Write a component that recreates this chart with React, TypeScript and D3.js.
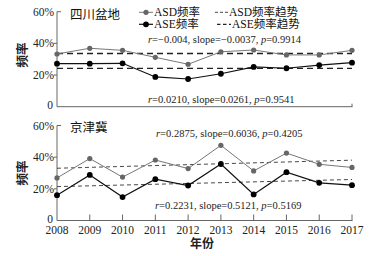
import React from "react";
import * as d3 from "d3";

const years = [2008, 2009, 2010, 2011, 2012, 2013, 2014, 2015, 2016, 2017];
const yTicks = [0, 20, 40, 60];

// 四川盆地
const scAsd = [33.3, 36.9, 35.6, 31.2, 26.8, 34.7, 35.8, 32.7, 32.7, 35.6];
const scAse = [27.2, 27.2, 27.4, 18.8, 17.5, 20.8, 25.1, 24.3, 26.3, 27.8];
const scAsdTrend = [33.6, 33.6];
const scAseTrend = [24.2, 24.2];

// 京津冀
const jjAsd = [26.9, 39.1, 27.4, 38.2, 32.8, 47.5, 31.3, 42.6, 35.5, 33.5];
const jjAse = [16.0, 28.8, 14.8, 26.1, 22.1, 35.7, 16.5, 30.5, 23.8, 22.3];
const jjAsdTrend = [33.0, 38.1];
const jjAseTrend = [21.4, 25.9];

const FONT = "'Liberation Serif', 'Noto Sans CJK SC', serif";

type PanelProps = {
  top: number;
  bottom: number;
  title: string;
  asd: number[];
  ase: number[];
  asdTrend: number[];
  aseTrend: number[];
  heavyTrend: boolean;
  stats: { r: string; slope: string; p: string; x: number; y: number }[];
  showXTicks: boolean;
  titleY: number;
};

const x = d3.scaleLinear().domain([2008, 2017]).range([57, 352]);

function Panel(props: PanelProps) {
  const y = d3.scaleLinear().domain([0, 60]).range([props.bottom, props.top]);
  const line = d3
    .line<number>()
    .x((_, i) => x(years[i]))
    .y((d) => y(d));
  const trendLine = (t: number[]) =>
    d3
      .line<number>()
      .x((_, i) => x(i === 0 ? years[0] : years[years.length - 1]))
      .y((d) => y(d))(t) || "";
  const axisColor = "#666";
  const trendStyle = props.heavyTrend
    ? { stroke: "#222", strokeWidth: 1.4, strokeDasharray: "6,4" }
    : { stroke: "#333", strokeWidth: 0.9, strokeDasharray: "4,3" };
  return (
    <g>
      {/* axes */}
      <line x1={x(2008)} x2={x(2008)} y1={y(60)} y2={y(0)} stroke={axisColor} strokeWidth={1} />
      <line x1={x(2008)} x2={x(2017) + 0.5} y1={y(0)} y2={y(0)} stroke={axisColor} strokeWidth={1} />
      {yTicks.map((t) => (
        <g key={t}>
          {t === 60 ? (
            <line x1={x(2008)} x2={x(2008) + 4} y1={y(t)} y2={y(t)} stroke={axisColor} />
          ) : t > 0 ? (
            <line x1={x(2008) - 3} x2={x(2008)} y1={y(t)} y2={y(t)} stroke={axisColor} />
          ) : null}
          <text
            x={x(2008) - (t === 0 ? 4 : 3)}
            y={y(t) + (t === 0 ? 2.5 : 4)}
            textAnchor="end"
            fontSize={11.5}
            fill="#222"
            fontFamily={FONT}
          >
            {t === 0 ? "0" : `${t}%`}
          </text>
        </g>
      ))}
      {props.showXTicks
        ? years.slice(1).map((yr) => (
            <line key={yr} x1={x(yr)} x2={x(yr)} y1={y(0)} y2={y(0) - 6} stroke={axisColor} />
          ))
        : <line x1={x(2017)} x2={x(2017)} y1={y(0)} y2={y(0) - 3} stroke={axisColor} />}
      {/* trends */}
      <path d={trendLine(props.asdTrend)} fill="none" {...trendStyle} />
      <path d={trendLine(props.aseTrend)} fill="none" {...trendStyle} />
      {/* series */}
      <path d={line(props.asd) || ""} fill="none" stroke="#777" strokeWidth={1} />
      {props.asd.map((v, i) => (
        <circle key={"a" + i} cx={x(years[i])} cy={y(v)} r={2.6} fill="#666" />
      ))}
      <path d={line(props.ase) || ""} fill="none" stroke="#111" strokeWidth={1.2} />
      {props.ase.map((v, i) => (
        <circle key={"b" + i} cx={x(years[i])} cy={y(v)} r={2.9} fill="#000" />
      ))}
      <text x={70} y={props.titleY} fontSize={12.5} fill="#111" fontFamily={FONT}>
        {props.title}
      </text>
      {props.stats.map((s, i) => (
        <text key={i} x={s.x} y={s.y} fontSize={10.5} fill="#222" fontFamily={FONT}>
          <tspan fontStyle="italic">r</tspan>
          {`=${s.r}, slope=${s.slope}, `}
          <tspan fontStyle="italic">p</tspan>
          {`=${s.p}`}
        </text>
      ))}
    </g>
  );
}

export default function App() {
  return (
    <svg
      width={379}
      height={256}
      style={{ position: "absolute", left: 0, top: 0, background: "#fff" }}
      fontFamily={FONT}
    >
      <Panel
        top={11.7}
        bottom={106.7}
        title="四川盆地"
        titleY={18.5}
        asd={scAsd}
        ase={scAse}
        asdTrend={scAsdTrend}
        aseTrend={scAseTrend}
        heavyTrend={true}
        showXTicks={false}
        stats={[
          { r: "−0.004", slope: "−0.0037", p: "0.9914", x: 148, y: 42.5 },
          { r: "0.0210", slope: "0.0261", p: "0.9541", x: 148, y: 102.5 },
        ]}
      />
      <Panel
        top={125.5}
        bottom={220.5}
        title="京津冀"
        titleY={132}
        asd={jjAsd}
        ase={jjAse}
        asdTrend={jjAsdTrend}
        aseTrend={jjAseTrend}
        heavyTrend={false}
        showXTicks={true}
        stats={[
          { r: "0.2875", slope: "0.6036", p: "0.4205", x: 156, y: 136.5 },
          { r: "0.2231", slope: "0.5121", p: "0.5169", x: 155, y: 208.5 },
        ]}
      />
      {/* legend */}
      <g fontFamily={FONT} fontSize={11.5} fill="#111">
        <line x1={139} x2={153} y1={12.3} y2={12.3} stroke="#777" strokeWidth={1} />
        <circle cx={146} cy={12.3} r={2.6} fill="#666" />
        <text x={154} y={16.3}>ASD频率</text>
        <line x1={139} x2={153} y1={24.3} y2={24.3} stroke="#111" strokeWidth={1.2} />
        <circle cx={146} cy={24.3} r={2.9} fill="#000" />
        <text x={154} y={28.3}>ASE频率</text>
        <line x1={215} x2={228} y1={12.3} y2={12.3} stroke="#333" strokeWidth={0.9} strokeDasharray="3,2" />
        <text x={229} y={16.3}>ASD频率趋势</text>
        <line x1={217} x2={231} y1={24.3} y2={24.3} stroke="#222" strokeWidth={1.3} strokeDasharray="3.5,2.5" />
        <text x={232} y={28.3}>ASE频率趋势</text>
      </g>
      {/* x tick labels */}
      {years.map((yr) => (
        <text key={yr} x={x(yr)} y={234} textAnchor="middle" fontSize={11.5} fill="#222" fontFamily={FONT}>
          {yr}
        </text>
      ))}
      <text x={202} y={248} textAnchor="middle" fontSize={12} fontWeight="bold" fill="#222" fontFamily={FONT}>
        年份
      </text>
      {[55, 173].map((cy, i) => (
        <text
          key={i}
          transform={`translate(27,${cy}) rotate(-90)`}
          textAnchor="middle"
          fontSize={12.5}
          fontWeight="bold"
          fill="#222"
          fontFamily={FONT}
        >
          频率
        </text>
      ))}
    </svg>
  );
}
